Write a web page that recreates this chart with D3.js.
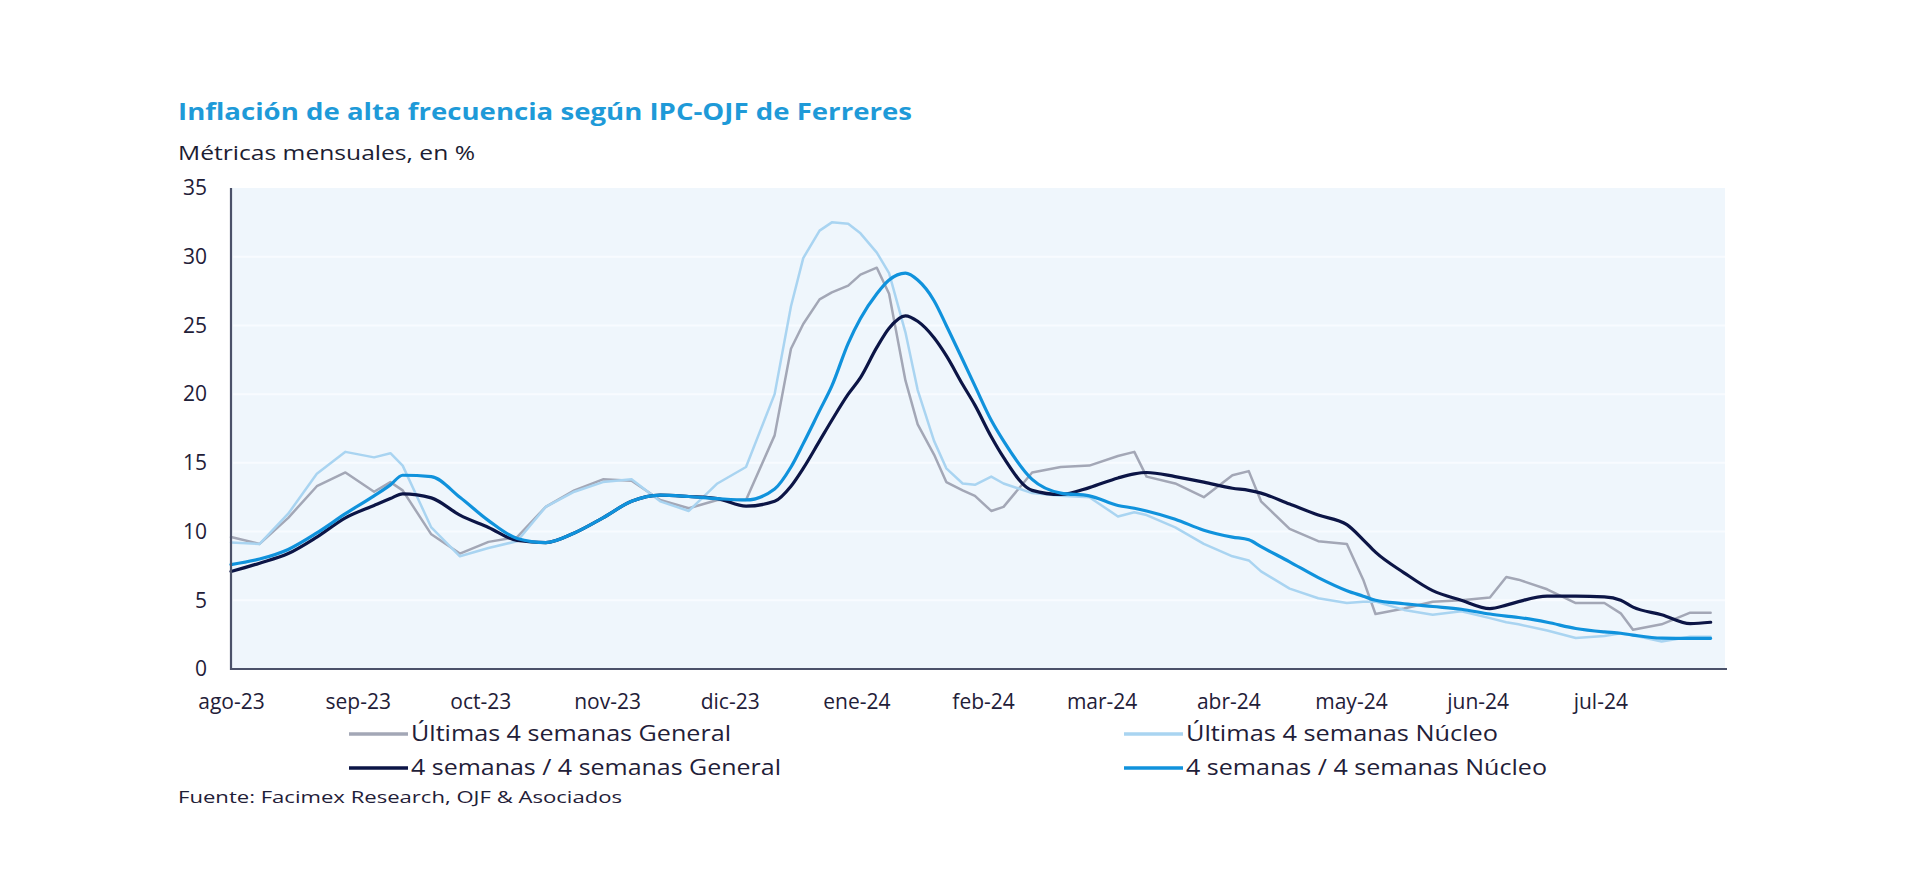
<!DOCTYPE html>
<html><head><meta charset="utf-8">
<script src="https://cdn.jsdelivr.net/npm/d3@7"></script>
<style>
html,body{margin:0;padding:0;background:#fff;}
svg{display:block;}
text{font-family:"Open Sans",sans-serif;}
</style></head><body>
<svg id="chart" width="1920" height="893"></svg>
<script>
// ---------- DATA ----------
const dates = ["2023-08-01","2023-08-08","2023-08-15","2023-08-22","2023-08-29","2023-09-05","2023-09-09","2023-09-12","2023-09-19","2023-09-26",
"2023-10-03","2023-10-10","2023-10-17","2023-10-24","2023-10-31","2023-11-07","2023-11-14","2023-11-21","2023-11-28","2023-12-05",
"2023-12-12","2023-12-16","2023-12-19","2023-12-23","2023-12-26","2023-12-30","2024-01-02","2024-01-06","2024-01-09","2024-01-13",
"2024-01-16","2024-01-20","2024-01-23","2024-01-27","2024-01-30","2024-02-03","2024-02-06","2024-02-13","2024-02-20","2024-02-27",
"2024-03-05","2024-03-09","2024-03-12","2024-03-19","2024-03-26","2024-04-02","2024-04-06","2024-04-09","2024-04-16","2024-04-23",
"2024-04-30","2024-05-04","2024-05-07","2024-05-14","2024-05-21","2024-05-28","2024-06-04","2024-06-08","2024-06-11","2024-06-18",
"2024-06-25","2024-07-02","2024-07-06","2024-07-09","2024-07-16","2024-07-23","2024-07-28"];

const ultimasGeneral = [9.6,9.1,11.0,13.3,14.3,12.9,13.6,13.0,9.8,8.4,
9.25,9.6,11.8,13.0,13.8,13.7,12.3,11.7,12.3,12.3,
17.0,23.3,25.1,26.9,27.4,27.9,28.7,29.2,27.3,21.0,
17.8,15.6,13.6,13.0,12.6,11.5,11.8,14.3,14.7,14.8,
15.5,15.8,14.0,13.5,12.5,14.1,14.4,12.2,10.2,9.3,
9.1,6.5,4.0,4.4,4.9,5.0,5.2,6.7,6.5,5.8,
4.8,4.8,4.05,2.85,3.25,4.1,4.1];

const ultimasNucleo = [9.2,9.1,11.3,14.2,15.8,15.4,15.7,14.8,10.3,8.2,
8.8,9.3,11.8,12.9,13.6,13.8,12.2,11.5,13.5,14.7,
20.0,26.4,29.9,31.9,32.5,32.4,31.7,30.3,28.8,24.5,
20.3,16.6,14.6,13.5,13.4,14.0,13.5,12.8,12.6,12.5,
11.1,11.4,11.2,10.3,9.1,8.2,7.9,7.1,5.85,5.15,
4.8,4.9,4.9,4.3,3.95,4.2,3.7,3.4,3.25,2.8,
2.25,2.4,2.6,2.45,2.0,2.35,2.35];

const cuatroGeneral = [7.1,7.7,8.4,9.6,11.0,11.9,12.4,12.75,12.45,11.2,
10.3,9.35,9.2,9.9,11.0,12.2,12.65,12.55,12.4,11.85,
12.2,13.3,14.6,16.6,18.1,20.0,21.2,23.4,24.8,25.7,
25.3,24.1,22.8,20.7,19.2,16.9,15.4,13.0,12.7,13.2,
13.9,14.2,14.3,14.0,13.6,13.15,13.0,12.8,12.0,11.2,
10.5,9.4,8.5,7.0,5.7,5.0,4.4,4.65,4.9,5.3,
5.3,5.25,5.0,4.5,3.95,3.3,3.4];

const cuatroNucleo = [7.6,8.0,8.7,9.9,11.3,12.6,13.4,14.1,14.0,12.5,
10.8,9.5,9.2,9.9,11.0,12.2,12.65,12.55,12.4,12.3,
13.1,14.7,16.4,18.8,20.6,23.7,25.5,27.3,28.3,28.8,
28.3,26.8,25.0,22.5,20.6,18.1,16.6,13.8,12.8,12.6,
11.9,11.7,11.5,10.9,10.1,9.6,9.4,8.9,7.8,6.65,
5.7,5.3,5.0,4.75,4.55,4.35,4.0,3.85,3.75,3.4,
2.95,2.7,2.6,2.47,2.25,2.23,2.23];

const monthTicks = ["2023-08-01","2023-09-01","2023-10-01","2023-11-01","2023-12-01","2024-01-01",
"2024-02-01","2024-03-01","2024-04-01","2024-05-01","2024-06-01","2024-07-01"];
const monthLabels = ["ago-23","sep-23","oct-23","nov-23","dic-23","ene-24","feb-24","mar-24","abr-24","may-24","jun-24","jul-24"];
const yTicks = [0,5,10,15,20,25,30,35];

const seriesNames = ["Últimas 4 semanas General","Últimas 4 semanas Núcleo","4 semanas / 4 semanas General","4 semanas / 4 semanas Núcleo"];
const seriesValues = [ultimasGeneral, ultimasNucleo, cuatroGeneral, cuatroNucleo];
const seriesColors = ["#a3a7b6","#a9d4f1","#0c1546","#1092dc"];
const seriesWidths = [2.5,2.5,3.2,3.2];

// ---------- CHART ----------
const svg = d3.select("#chart");
const parse = d3.timeParse("%Y-%m-%d");
const L = 231, R = 1727, T = 188, B = 669;

const x = d3.scaleTime().domain([parse("2023-08-01"), parse("2024-08-01")]).range([L, R]);
const y = d3.scaleLinear().domain([0, 35]).range([B, T]);

// plot background
svg.append("rect").attr("x", L).attr("y", y(35)).attr("width", 1725 - L).attr("height", B - y(35))
  .attr("fill", "#eff6fc");

// subtle grid
svg.append("g").selectAll("line").data(yTicks.filter(v => v > 0 && v < 35)).join("line")
  .attr("x1", L + 2).attr("x2", 1725).attr("y1", d => y(d)).attr("y2", d => y(d))
  .attr("stroke", "#f8fbff").attr("stroke-width", 2);

// title etc.
svg.append("text").attr("x", 178).attr("y", 120).text("Inflación de alta frecuencia según IPC-OJF de Ferreres")
  .attr("fill", "#1e9ad8").attr("font-size", 23).attr("font-weight", 700)
  .attr("textLength", 734).attr("lengthAdjust", "spacingAndGlyphs");
svg.append("text").attr("x", 178).attr("y", 160).text("Métricas mensuales, en %")
  .attr("fill", "#1c1d33").attr("font-size", 20).attr("font-weight", 500)
  .attr("textLength", 297).attr("lengthAdjust", "spacingAndGlyphs");

// axes
const yAxis = svg.append("g").attr("transform", `translate(${L},0)`)
  .call(d3.axisLeft(y).tickValues(yTicks).tickSize(0).tickSizeOuter(0).tickPadding(24).tickFormat(d3.format("d")));
yAxis.select(".domain").remove();
yAxis.selectAll("text").attr("font-size", 21).attr("font-weight", 500).attr("fill", "#1f2038").attr("font-family", "'Open Sans',sans-serif");

const xAxis = svg.append("g").attr("transform", `translate(0,${B})`)
  .call(d3.axisBottom(x).tickValues(monthTicks.map(parse)).tickSize(0).tickSizeOuter(0).tickPadding(25)
    .tickFormat((d, i) => monthLabels[i]));
xAxis.select(".domain").remove();
xAxis.selectAll("text").attr("font-size", 21).attr("font-weight", 500).attr("fill", "#1f2038").attr("font-family", "'Open Sans',sans-serif");

// lines
const parsedDates = dates.map(parse);
seriesValues.forEach((vals, i) => {
  const line = d3.line()
    .x((d, j) => x(parsedDates[j]))
    .y(d => y(d))
    .curve(i >= 2 ? d3.curveMonotoneX : d3.curveLinear);
  svg.append("path").datum(vals).attr("d", line)
    .attr("fill", "none").attr("stroke", seriesColors[i]).attr("stroke-width", seriesWidths[i])
    .attr("stroke-linejoin", "round").attr("stroke-linecap", "round");
});

// axis lines
svg.append("line").attr("x1", L).attr("x2", L).attr("y1", T).attr("y2", B + 1)
  .attr("stroke", "#4b5169").attr("stroke-width", 2.2);
svg.append("line").attr("x1", L - 1).attr("x2", R).attr("y1", B).attr("y2", B)
  .attr("stroke", "#4b5169").attr("stroke-width", 2.2);

// legend
const legendPos = [
  {lx: 349, ty: 741, tw: 320},
  {lx: 1124, ty: 741, tw: 312},
  {lx: 349, ty: 775, tw: 370},
  {lx: 1124, ty: 775, tw: 361}
];
seriesNames.forEach((name, i) => {
  const p = legendPos[i];
  svg.append("line").attr("x1", p.lx).attr("x2", p.lx + 59).attr("y1", p.ty - 7).attr("y2", p.ty - 7)
    .attr("stroke", seriesColors[i]).attr("stroke-width", 3.4);
  svg.append("text").attr("x", p.lx + 62).attr("y", p.ty).text(name)
    .attr("font-size", 21).attr("font-weight", 500).attr("fill", "#1f2038")
    .attr("textLength", p.tw).attr("lengthAdjust", "spacingAndGlyphs");
});

// source
svg.append("text").attr("x", 178).attr("y", 803).text("Fuente: Facimex Research, OJF & Asociados")
  .attr("font-size", 17).attr("font-weight", 500).attr("fill", "#1f2038")
  .attr("textLength", 444).attr("lengthAdjust", "spacingAndGlyphs");
</script>
</body></html>
